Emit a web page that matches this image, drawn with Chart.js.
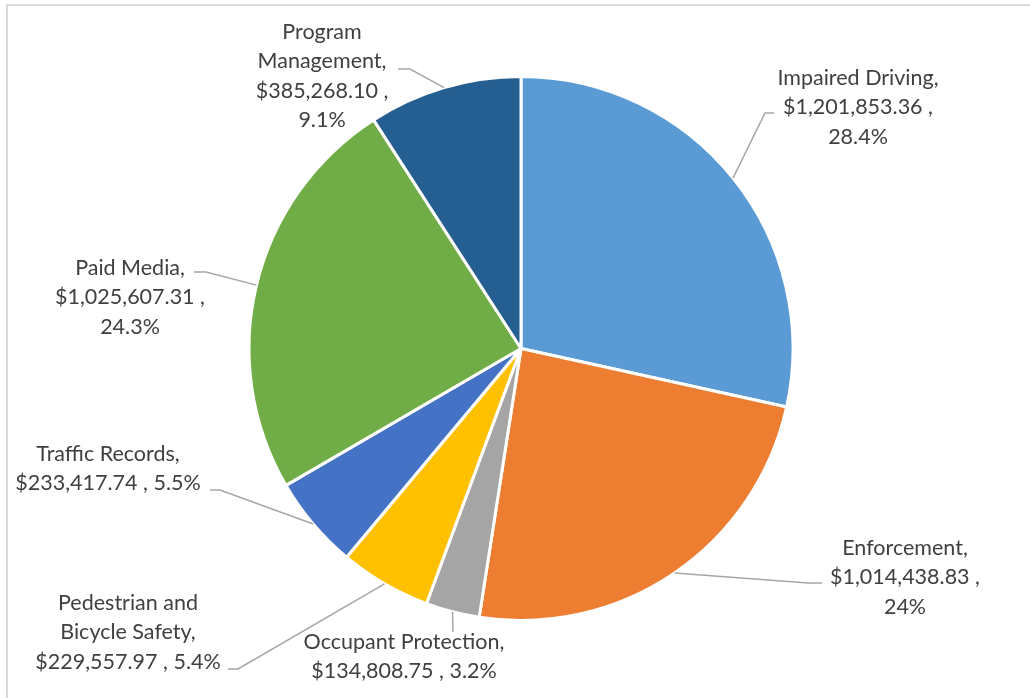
<!DOCTYPE html>
<html>
<head>
<meta charset="utf-8">
<script src="https://cdn.jsdelivr.net/npm/chart.js@4.4.1/dist/chart.umd.min.js"></script>
<style>
  html, body { margin: 0; padding: 0; background: #fff; }
  canvas { display: block; }
</style>
</head>
<body>
<canvas id="budgetPie" width="1030" height="698"></canvas>
<script>
// categories, clockwise from 12 o'clock
const categories = [
  'Impaired Driving', 'Enforcement', 'Occupant Protection',
  'Pedestrian and Bicycle Safety', 'Traffic Records', 'Paid Media', 'Program Management'
];
const amounts = [1201853.36, 1014438.83, 134808.75, 229557.97, 233417.74, 1025607.31, 385268.10];
const percentLabels = ['28.4%', '24%', '3.2%', '5.4%', '5.5%', '24.3%', '9.1%'];
const sliceColors = ['#5b9bd5', '#ed7d31', '#a5a5a5', '#ffc000', '#4472c4', '#70ad47', '#255e91'];

// label placement (text centre x, first line y, words per line, leader elbow + end)
const labelLayout = [
  { cx: 858, y: 78,  words: [2, 2, 1],    elbow: [765, 113], end: [774, 113] },
  { cx: 905, y: 548, words: [1, 2, 1],    elbow: [808, 583], end: [822, 583] },
  { cx: 404, y: 642, words: [2, 3],       elbow: null,       end: [453, 632] },
  { cx: 128, y: 603, words: [2, 2, 3],    elbow: [238, 669], end: [228, 669] },
  { cx: 108, y: 454, words: [2, 3],       elbow: [220, 490], end: [210, 490] },
  { cx: 130, y: 268, words: [2, 2, 1],    elbow: [206, 272], end: [194, 272] },
  { cx: 322, y: 32,  words: [1, 1, 2, 1], elbow: [410, 69],  end: [398, 69] }
];

const money = v => '$' + v.toLocaleString('en-US', { minimumFractionDigits: 2, maximumFractionDigits: 2 });
const FONT = '21.5px Lato, "Open Sans", sans-serif';
const LINE_H = 29.5;

function splitLines(text, counts) {
  const words = text.split(' ');
  const lines = [];
  let k = 0;
  counts.forEach(n => {
    lines.push(words.slice(k, k + n).join(' '));
    k += n;
  });
  return lines;
}

const frameAndLabels = {
  id: 'frameAndLabels',
  beforeDraw(chart) {
    const ctx = chart.ctx;
    ctx.save();
    ctx.fillStyle = '#fff';
    ctx.fillRect(0, 0, chart.width, chart.height);
    ctx.strokeStyle = '#d9d9d9';
    ctx.lineWidth = 2;
    ctx.strokeRect(7, 5, chart.width + 20, chart.height + 20);
    ctx.restore();
  },
  afterDatasetsDraw(chart) {
    const ctx = chart.ctx;
    const arcs = chart.getDatasetMeta(0).data;
    ctx.save();
    ctx.font = FONT;
    arcs.forEach((arc, i) => {
      const lay = labelLayout[i];
      const p = arc.getProps(['x', 'y', 'startAngle', 'endAngle', 'outerRadius'], true);
      const mid = (p.startAngle + p.endAngle) / 2;
      const sx = p.x + Math.cos(mid) * p.outerRadius;
      const sy = p.y + Math.sin(mid) * p.outerRadius;

      // leader line
      ctx.strokeStyle = '#a6a6a6';
      ctx.lineWidth = 1.5;
      ctx.beginPath();
      ctx.moveTo(sx, sy);
      if (lay.elbow) ctx.lineTo(lay.elbow[0], lay.elbow[1]);
      ctx.lineTo(lay.end[0], lay.end[1]);
      ctx.stroke();

      // label text
      const text = categories[i] + ', ' + money(amounts[i]) + ' , ' + percentLabels[i];
      const lines = splitLines(text, lay.words);
      ctx.fillStyle = '#404040';
      ctx.textAlign = 'center';
      ctx.textBaseline = 'middle';
      lines.forEach((ln, k) => ctx.fillText(ln, lay.cx, lay.y + k * LINE_H));
    });
    ctx.restore();
  }
};

new Chart(document.getElementById('budgetPie'), {
  type: 'pie',
  data: {
    labels: categories,
    datasets: [{
      data: amounts,
      backgroundColor: sliceColors,
      borderColor: '#ffffff',
      borderWidth: 3
    }]
  },
  options: {
    responsive: false,
    devicePixelRatio: 1,
    animation: false,
    layout: { padding: { top: 75, bottom: 76, left: 246, right: 234 } },
    plugins: {
      legend: { display: false },
      tooltip: { enabled: false }
    }
  },
  plugins: [frameAndLabels]
});
</script>
</body>
</html>
